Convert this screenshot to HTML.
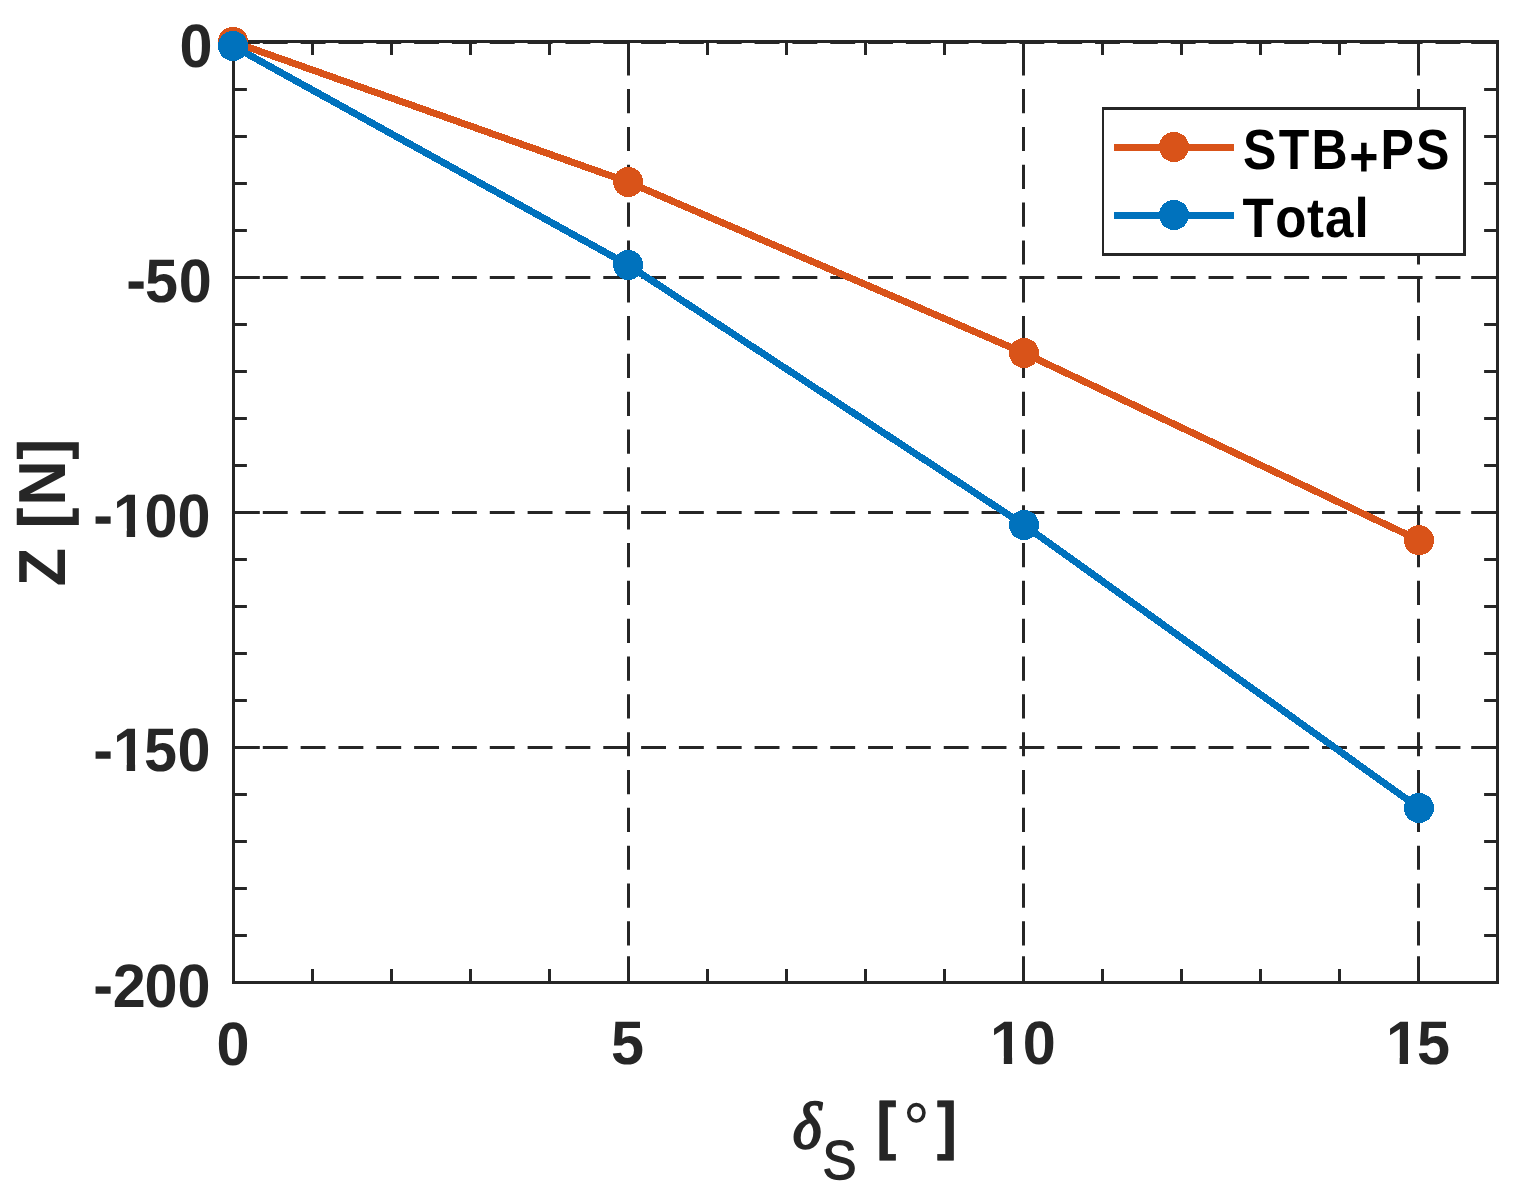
<!DOCTYPE html>
<html lang="en"><head><meta charset="utf-8"><title>Z [N] vs. delta_S</title>
<style>
html,body{margin:0;padding:0;background:#fff;}
body{width:1525px;height:1199px;overflow:hidden;}
svg{display:block;}
text{font-family:"Liberation Sans",Arial,Helvetica,sans-serif;font-weight:bold;white-space:pre;text-rendering:geometricPrecision;}
.reg{font-weight:normal;}
.math{font-family:"Liberation Serif","DejaVu Serif",serif;font-style:italic;font-weight:normal;}
</style>
</head><body>
<svg width="1525" height="1199" viewBox="0 0 1525 1199" role="img" aria-label="Line chart of Z [N] versus delta_S [deg] for STB+PS and Total">
<defs>
<clipPath id="plot"><rect x="232" y="40" width="1267" height="944"/></clipPath>
<clipPath id="one1"><path clip-rule="evenodd" d="M-10 -60h200v80h-200zM21.7 -7.7h12.1v12h-12.1zM42.3 -7.7h11.5v12h-11.5z"/></clipPath>
<clipPath id="one2"><path clip-rule="evenodd" d="M-10 -60h200v80h-200zM1.8 -7.7h12.1v12h-12.1zM22.3 -7.7h11.5v12h-11.5z"/></clipPath>
</defs>
<rect x="0" y="0" width="1525" height="1199" fill="#ffffff"/>
<!-- dashed grid -->
<g stroke="#262626" stroke-width="3" fill="none" clip-path="url(#plot)">
<g stroke-dasharray="24.20 13.63">
<line x1="628.5" y1="13.4" x2="628.5" y2="984"/>
<line x1="1023.5" y1="13.4" x2="1023.5" y2="984"/>
<line x1="1418.5" y1="13.4" x2="1418.5" y2="984"/>
</g>
<g stroke-dasharray="24.90 12.93">
<line x1="224.97" y1="42.5" x2="1499" y2="42.5"/>
<line x1="224.97" y1="277.5" x2="1499" y2="277.5"/>
<line x1="224.97" y1="512.5" x2="1499" y2="512.5"/>
<line x1="224.97" y1="747.5" x2="1499" y2="747.5"/>
</g>
</g>
<!-- axes box and ticks -->
<g stroke="#262626" stroke-width="3" fill="none">
<path d="M233.5 982.5v-26.3M233.5 41.5v26.3M312.5 982.5v-13.4M312.5 41.5v13.4M391.5 982.5v-13.4M391.5 41.5v13.4M470.5 982.5v-13.4M470.5 41.5v13.4M549.5 982.5v-13.4M549.5 41.5v13.4M628.5 982.5v-26.3M628.5 41.5v26.3M707.5 982.5v-13.4M707.5 41.5v13.4M786.5 982.5v-13.4M786.5 41.5v13.4M865.5 982.5v-13.4M865.5 41.5v13.4M944.5 982.5v-13.4M944.5 41.5v13.4M1023.5 982.5v-26.3M1023.5 41.5v26.3M1102.5 982.5v-13.4M1102.5 41.5v13.4M1181.5 982.5v-13.4M1181.5 41.5v13.4M1260.5 982.5v-13.4M1260.5 41.5v13.4M1339.5 982.5v-13.4M1339.5 41.5v13.4M1418.5 982.5v-26.3M1418.5 41.5v26.3M1497.5 982.5v-13.4M1497.5 41.5v13.4M233.5 42.5h26.3M1497.5 42.5h-26.3M233.5 89.5h13.4M1497.5 89.5h-13.4M233.5 136.5h13.4M1497.5 136.5h-13.4M233.5 183.5h13.4M1497.5 183.5h-13.4M233.5 230.5h13.4M1497.5 230.5h-13.4M233.5 277.5h26.3M1497.5 277.5h-26.3M233.5 324.5h13.4M1497.5 324.5h-13.4M233.5 371.5h13.4M1497.5 371.5h-13.4M233.5 418.5h13.4M1497.5 418.5h-13.4M233.5 465.5h13.4M1497.5 465.5h-13.4M233.5 512.5h26.3M1497.5 512.5h-26.3M233.5 559.5h13.4M1497.5 559.5h-13.4M233.5 606.5h13.4M1497.5 606.5h-13.4M233.5 653.5h13.4M1497.5 653.5h-13.4M233.5 700.5h13.4M1497.5 700.5h-13.4M233.5 747.5h26.3M1497.5 747.5h-26.3M233.5 794.5h13.4M1497.5 794.5h-13.4M233.5 841.5h13.4M1497.5 841.5h-13.4M233.5 888.5h13.4M1497.5 888.5h-13.4M233.5 935.5h13.4M1497.5 935.5h-13.4M233.5 982.5h26.3M1497.5 982.5h-26.3"/>
<rect x="233.5" y="41.5" width="1264.0" height="941.0"/>
</g>
<!-- data series -->
<g fill="#D95319" shape-rendering="crispEdges">
<polyline points="233,41.8 628.1,182 1024,353 1419,540.2" fill="none" stroke="#D95319" stroke-width="7" stroke-linejoin="round"/>
<circle cx="233" cy="41.8" r="15"/>
<circle cx="628.1" cy="182" r="15"/>
<circle cx="1024" cy="353" r="15"/>
<circle cx="1419" cy="540.2" r="15"/>
</g>
<g fill="#0072BD" shape-rendering="crispEdges">
<polyline points="233,46 628.1,265 1024,525 1419,808" fill="none" stroke="#0072BD" stroke-width="7" stroke-linejoin="round"/>
<circle cx="233" cy="46" r="15"/>
<circle cx="628.1" cy="265" r="15"/>
<circle cx="1024" cy="525" r="15"/>
<circle cx="1419" cy="808" r="15"/>
</g>
<!-- legend -->
<rect x="1102" y="107" width="364" height="149" fill="#262626"/>
<rect x="1104" y="110" width="359" height="143" fill="#ffffff"/>
<g fill="#D95319" stroke="none" shape-rendering="crispEdges"><rect x="1114" y="144" width="120" height="7"/><circle cx="1174" cy="147" r="15"/></g>
<g fill="#0072BD" stroke="none" shape-rendering="crispEdges"><rect x="1114" y="212" width="120" height="7"/><circle cx="1174" cy="215" r="15"/></g>
<g fill="#000000" font-size="54">
<text transform="translate(1243.12 168.96) scale(0.9266 1.0471)" x="0 38.4 73.8 114.6 148.3 186.7" y="0 0 0 6.5 0 0">STB+PS</text>
<text transform="translate(1242.43 237.25) scale(0.9462 1.0313)" x="0 34.7 68.2 87.2 118.4" y="0">Total</text>
</g>
<!-- tick labels -->
<g fill="#262626" font-size="60">
<text transform="translate(179.58 66.69) scale(0.9897 1.0234)" x="0" y="0">0</text>
<text transform="translate(126.19 301.56) scale(0.9897 1.0234)" x="0 19 53" y="-0.6 0 0">-50</text>
<text transform="translate(93.24 536.5) scale(0.9897 1.0234)" x="0 19.9 51.9 85.2" y="-0.6 0 0 0" clip-path="url(#one1)">-100</text>
<text transform="translate(93.24 771.47) scale(0.9897 1.0234)" x="0 19.9 51.2 85.2" y="-0.6 0 0 0" clip-path="url(#one1)">-150</text>
<text transform="translate(93.24 1006.5) scale(0.9897 1.0234)" x="0 19.6 51.9 85.2" y="-0.6 0 0 0">-200</text>
<text transform="translate(216.53 1064.64) scale(0.9897 1.0234)" x="0" y="0">0</text>
<text transform="translate(611 1064.47) scale(0.9897 1.0234)" x="0" y="0">5</text>
<text transform="translate(990.07 1064.38) scale(0.9897 1.0234)" x="0 33" y="0" clip-path="url(#one2)">10</text>
<text transform="translate(1385.92 1064.3) scale(0.9897 1.0234)" x="0 31.3" y="0" clip-path="url(#one2)">15</text>
</g>
<!-- axis labels -->
<g fill="#262626">
<text transform="translate(64.9 586.34) rotate(-90) scale(0.9531 1.009)" font-size="66" x="0 30.4 60.8 84.6 132.9" y="0">Z [N]</text>
<text transform="translate(792.82 1148) scale(0.93 1)" font-size="63.7" stroke="#262626" stroke-width="0.8" x="0 31.9 60.9 89.9 118.6 155" y="0.4 30.9 0 -0.7 5.1 -0.7"><tspan class="math" font-size="66.1" stroke-width="2.2" stroke-linejoin="round">δ</tspan><tspan class="reg" font-size="54.9" stroke-width="1.3" stroke-linejoin="round">S</tspan> [<tspan class="reg" font-size="71.9" stroke="none">°</tspan>]</text>
</g>
</svg>
</body></html>
